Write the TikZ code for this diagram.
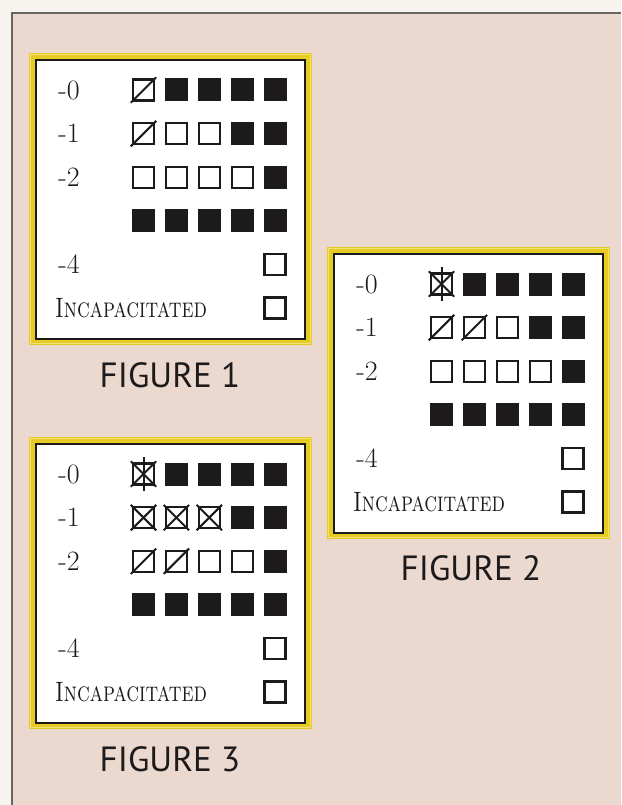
\documentclass[tikz,border=0pt]{standalone}
\usepackage{fontspec}
\newfontfamily\capfont{PT Sans}
\definecolor{outbg}{HTML}{F7F3EE}
\definecolor{inbg}{HTML}{EBD8CF}
\definecolor{frameyel}{HTML}{E6CB22}
\definecolor{frameyellite}{HTML}{F2E27A}
\definecolor{framegray}{HTML}{6B6461}
\definecolor{ink}{HTML}{1C1A1A}
\tikzset{
  sq/.style={draw=ink, line width=2.3pt, minimum size=21pt, inner sep=0pt, fill=white},
  fsq/.style={fill=ink, draw=none, minimum size=23pt, inner sep=0pt},
  lbl/.style={font=\fontsize{28}{30}\selectfont, anchor=east, inner sep=0pt, text=ink},
  inclbl/.style={font=\fontsize{28}{30}\selectfont, anchor=west, inner sep=0pt, text=ink},
  figcap/.style={font=\capfont\fontsize{35}{37}\selectfont, text=ink, inner sep=0pt},
  tally/.style={draw=ink, line width=2pt, shorten <=-1.5pt, shorten >=-1.5pt},
  healthcard/.pic={
    \fill[frameyel] (0,0) rectangle (283,292);
    \draw[frameyellite, line width=1.2pt] (1.5,1.5) rectangle (281.5,290.5);
    \draw[ink, line width=2.5pt, fill=white] (7,7) rectangle (276,286);
    % row -0
    \node[sq]  (-r0c1) at (114.5,37) {};
    \foreach \c/\x in {2/147.4,3/180.3,4/213.2,5/246.1} \node[fsq] (-r0c\c) at (\x,37) {};
    % row -1
    \foreach \c/\x in {1/114.5,2/147.4,3/180.3} \node[sq] (-r1c\c) at (\x,80.6) {};
    \foreach \c/\x in {4/213.2,5/246.1} \node[fsq] (-r1c\c) at (\x,80.6) {};
    % row -2
    \foreach \c/\x in {1/114.5,2/147.4,3/180.3,4/213.2} \node[sq] (-r2c\c) at (\x,124.2) {};
    \node[fsq] (-r2c5) at (246.1,124.2) {};
    % row 3
    \foreach \c/\x in {1/114.5,2/147.4,3/180.3,4/213.2,5/246.1} \node[fsq] (-r3c\c) at (\x,167.8) {};
    % row -4 and incapacitated
    \node[sq] (-r4c5) at (246.1,211.4) {};
    \node[sq] (-r5c5) at (246.1,255) {};
    % labels
    \node[lbl] (-l0) at (51,37) {-0};
    \node[lbl] (-l1) at (51,80.6) {-1};
    \node[lbl] (-l2) at (51,124.2) {-2};
    \node[lbl] (-l4) at (51,211.4) {-4};
    \node[inclbl] (-linc) at (26,255) {\scalebox{0.77}[1]{\textsc{Incapacitated}}};
  }
}
\begin{document}
\begin{tikzpicture}[x=1pt,y=-1pt]
  \useasboundingbox (0,0) rectangle (621,805);
  \fill[outbg] (0,0) rectangle (621,805);
  \fill[inbg] (12,13) rectangle (621,805);
  \draw[framegray, line width=2pt] (12,805) -- (12,13) -- (621,13);

  % Figure 1
  \pic (f1) at (29,53) {healthcard};
  \draw[tally] (f1-r0c1.south west) -- (f1-r0c1.north east);
  \draw[tally] (f1-r1c1.south west) -- (f1-r1c1.north east);
  \node[figcap] (cap1) at (170,375) {FIGURE 1};

  % Figure 2
  \pic (f2) at (327,247) {healthcard};
  \draw[tally] (f2-r0c1.south west) -- (f2-r0c1.north east);
  \draw[tally] (f2-r0c1.north west) -- (f2-r0c1.south east);
  \draw[tally, shorten <=-5pt, shorten >=-5pt] (f2-r0c1.north) -- (f2-r0c1.south);
  \draw[tally] (f2-r1c1.south west) -- (f2-r1c1.north east);
  \draw[tally] (f2-r1c2.south west) -- (f2-r1c2.north east);
  \node[figcap] (cap2) at (471,568) {FIGURE 2};

  % Figure 3
  \pic (f3) at (29,437) {healthcard};
  \draw[tally] (f3-r0c1.south west) -- (f3-r0c1.north east);
  \draw[tally] (f3-r0c1.north west) -- (f3-r0c1.south east);
  \draw[tally, shorten <=-5pt, shorten >=-5pt] (f3-r0c1.north) -- (f3-r0c1.south);
  \foreach \c in {1,2,3} {
    \draw[tally] (f3-r1c\c.south west) -- (f3-r1c\c.north east);
    \draw[tally] (f3-r1c\c.north west) -- (f3-r1c\c.south east);
  }
  \draw[tally] (f3-r2c1.south west) -- (f3-r2c1.north east);
  \draw[tally] (f3-r2c2.south west) -- (f3-r2c2.north east);
  \node[figcap] (cap3) at (170,759) {FIGURE 3};
\end{tikzpicture}
\end{document}
